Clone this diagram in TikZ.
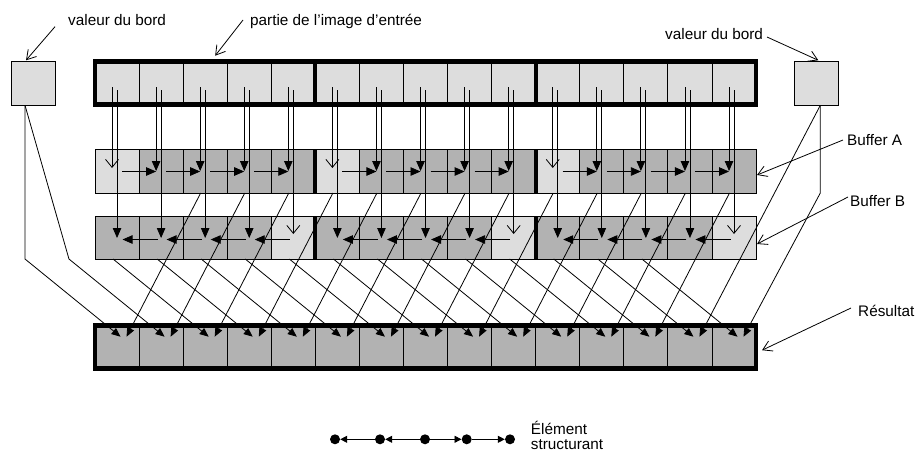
\documentclass[tikz,border=0pt]{standalone}
\usepackage{fontspec}
\setmainfont{Liberation Sans}
\usetikzlibrary{arrows.meta,calc}
\definecolor{lightg}{RGB}{221,221,221}
\definecolor{darkg}{RGB}{178,178,178}
\begin{document}
\begin{tikzpicture}[x=1pt,y=-1pt,
  cell/.style={draw, line width=0.9pt, minimum width=44.07pt, inner sep=0pt, outer sep=0pt},
  conn/.style={line width=0.8pt},
  tri/.style={-{Triangle[length=10pt,width=8.5pt]}},
  rtri/.style={-{Triangle[length=9pt,width=7.5pt]}},
  barb/.style={-{Straight Barb[length=8pt,width=13pt]}},
  lbarb/.style={-{Straight Barb[length=9pt,width=11pt]}},
  thickb/.style={line width=4.5pt},
  sepline/.style={line width=4pt},
  lbl/.style={font=\fontsize{15.3}{18}\selectfont, inner sep=0pt, anchor=base west},
  dot/.style={circle, fill=black, inner sep=0pt, minimum size=10pt},
  ltri/.style={-{Triangle[length=7pt,width=7pt]}, line width=0.8pt}
]
\useasboundingbox (0,0) rectangle (915,453);

% border boxes
\node[cell, fill=lightg, minimum width=44pt, minimum height=44pt] (L) at (33,83.3) {};
\node[cell, fill=lightg, minimum width=44pt, minimum height=44pt] (Rb) at (816.3,83.3) {};

% rows of cells
\foreach \i in {0,...,14} {
  \pgfmathsetmacro\cx{117.035+44.07*\i}
  \pgfmathtruncatemacro\m{mod(\i,5)}
  \ifnum\m=0 \def\af{lightg}\else\def\af{darkg}\fi
  \ifnum\m=4 \def\bf{lightg}\else\def\bf{darkg}\fi
  \node[cell, fill=lightg, minimum height=43pt] (T\i) at (\cx,83.2) {};
  \node[cell, fill=\af, minimum height=44pt] (A\i) at (\cx,171) {};
  \node[cell, fill=\bf, minimum height=43pt] (B\i) at (\cx,237.5) {};
  \node[cell, fill=darkg, minimum height=43pt] (R\i) at (\cx,347.2) {};
}

% thick borders and separators
\draw[thickb] (T0.north west) rectangle (T14.south east);
\draw[thickb] (R0.north west) rectangle (R14.south east);
\foreach \g in {4,9} {
  \draw[sepline] (T\g.north east) -- (T\g.south east);
  \draw[sepline] (A\g.north east) -- (A\g.south east);
  \draw[sepline] (B\g.north east) -- (B\g.south east);
}

% vertical arrows from the input image
\foreach \i in {0,...,14} {
  \pgfmathtruncatemacro\m{mod(\i,5)}
  \ifnum\m=0
    \draw[conn,barb] ($(T\i.center)+(-5,4)$) -- ($(A\i.center)+(-5,-3)$);
  \else
    \draw[conn,tri] ($(T\i.center)+(-5,4)$) -- ($(A\i.center)+(-5,0)$);
  \fi
  \ifnum\m=4
    \draw[conn,barb] ($(T\i.center)+(0,7)$) -- ($(B\i.center)+(0,-3.5)$);
  \else
    \draw[conn,tri] ($(T\i.center)+(0,7)$) -- ($(B\i.center)+(0,0.5)$);
  \fi
}

% horizontal propagation arrows
\foreach \i in {0,...,13} {
  \pgfmathtruncatemacro\m{mod(\i,5)}
  \pgfmathtruncatemacro\j{\i+1}
  \ifnum\m<4
    \draw[conn,tri] ($(A\i.center)+(5,0.5)$) -- ($(A\j.center)+(-5,0.5)$);
    \draw[conn,tri] ($(B\j.center)+(-3.5,2)$) -- ($(B\i.center)+(5.5,2)$);
  \fi
}

% diagonals to the result
\foreach \j in {2,...,14} {
  \pgfmathtruncatemacro\k{\j-2}
  \draw[conn,rtri] ($(A\j.south)+(-4.5,0)$) -- ($(R\k.north)+(9.5,11)$);
}
\foreach \j in {0,...,12} {
  \pgfmathtruncatemacro\k{\j+2}
  \draw[conn,rtri] ($(B\j.south)+(-4,0)$) -- ($(R\k.north)+(3.5,11)$);
}

% border value lines
\coordinate (lb) at ($(L.south)+(-8,0)$);
\draw[conn,rtri] (lb) -- (lb |- B0.south) -- ($(R0.north)+(3.5,11)$);
\draw[conn,rtri] (lb) -- ($(B0.south)+(-48.07,0)$) -- ($(R1.north)+(3.5,11)$);
\coordinate (rb) at ($(Rb.south)+(4,0)$);
\draw[conn,rtri] (rb) -- ($(R13.north)+(9.5,11)$);
\draw[conn,rtri] (rb) -- (rb |- A0.south) -- ($(R14.north)+(9.5,11)$);

% labels
\node[lbl] (vl) at (68,25.7) {valeur du bord};
\node[lbl] (pi) at (250,25.7) {partie de l’image d’entrée};
\node[lbl] (vr) at (665,39.5) {valeur du bord};
\node[lbl] (ba) at (847,145) {Buffer A};
\node[lbl] (bb) at (850,206.7) {Buffer B};
\node[lbl] (rs) at (858,316.7) {Résultat};

\coordinate (vlt) at (55,26.7);
\coordinate (pit) at (243,20);
\coordinate (vrt) at (767,37);
\coordinate (bat) at (843,140);
\coordinate (bbt) at (848,197);
\coordinate (rst) at (851,308);
\draw[conn,lbarb] (vlt) -- ($(L.north)+(-7,-1)$);
\draw[conn,lbarb] (pit) -- ($(T2.north)+(10,-6)$);
\draw[conn,lbarb] (vrt) -- ($(Rb.north)+(2,-1)$);
\draw[conn,lbarb] (bat) -- ($(A14.east)+(1,4)$);
\draw[conn,lbarb] (bbt) -- ($(B14.east)+(1,6.5)$);
\draw[conn,lbarb] (rst) -- ($(R14.east)+(6,3)$);

% legend
\node[dot] (d1) at (335,439.3) {};
\node[dot] (d2) at (380,439.3) {};
\node[dot] (d3) at (425,439.3) {};
\node[dot] (d4) at (466.7,439.3) {};
\node[dot] (d5) at (510,439.3) {};
\draw[ltri] (d2) -- (d1);
\draw[ltri] (d3) -- (d2);
\draw[ltri] (d3) -- (d4);
\draw[ltri] (d4) -- (d5);
\node[lbl] (e1) at (530.7,434.5) {Élément};
\node[lbl] (e2) at (530.7,449.5) {structurant};
\end{tikzpicture}
\end{document}
